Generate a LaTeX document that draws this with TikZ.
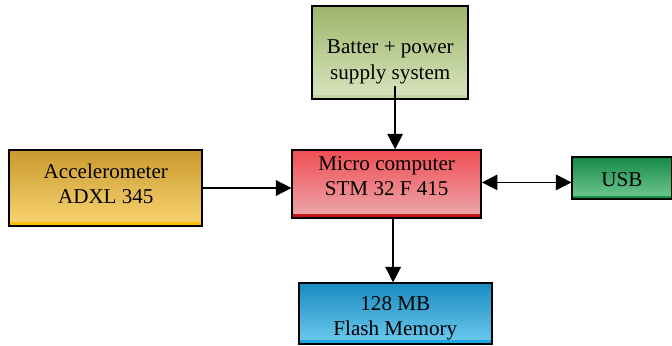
\documentclass[tikz,border=0pt]{standalone}
\usepackage{fontspec}
\setmainfont{Liberation Serif}
\usetikzlibrary{arrows.meta}
\usetikzlibrary{positioning}
\definecolor{batTop}{HTML}{9DB56B}
\definecolor{batBot}{HTML}{D9E5BF}
\definecolor{batLin}{HTML}{C3D69B}
\definecolor{accTop}{HTML}{C99A2E}
\definecolor{accBot}{HTML}{FAD572}
\definecolor{accLin}{HTML}{FFC000}
\definecolor{mcTop}{HTML}{F04E55}
\definecolor{mcBot}{HTML}{EBA9AC}
\definecolor{mcLin}{HTML}{C3161E}
\definecolor{usbTop}{HTML}{178A47}
\definecolor{usbBot}{HTML}{71C993}
\definecolor{usbLin}{HTML}{14934A}
\definecolor{flTop}{HTML}{1A8CC1}
\definecolor{flBot}{HTML}{6ECAEE}
\definecolor{flLin}{HTML}{16A5DE}
\tikzset{
  >={Triangle[length=11pt,width=11pt]},
  box/.style = {draw, line width=1.2pt, align=center, inner sep=0pt,
    font=\fontsize{15}{18}\selectfont},
  grad/.style n args = {3}{top color=#1, bottom color=#2,
    path picture={\fill[#3] (path picture bounding box.south west)
      rectangle ([yshift=2.6pt]path picture bounding box.south east);}},
  link/.style = {line width=1pt},
}

\begin{document}
\begin{tikzpicture}[x=0.025cm, y=-0.025cm]
    \useasboundingbox (0,0) rectangle (672,345);
    \node [box, grad={batTop}{batBot}{batLin}, minimum width=3.9cm, minimum height=2.325cm,
      text height=39pt, text depth=1pt] (bat) at (390.3,52.5) {Batter + power\\supply system};
    \node [box, grad={accTop}{accBot}{accLin}, minimum width=4.825cm, minimum height=1.9cm,
      text height=31.3pt, text depth=8.7pt] (acc) at (105.8,188) {Accelerometer\\ADXL 345};
    \node [box, grad={mcTop}{mcBot}{mcLin}, minimum width=4.72cm, minimum height=1.69cm,
      text height=28.3pt, text depth=11.7pt] (mc) at (386.7,184) {Micro computer\\STM 32 F 415};
    \node [box, grad={usbTop}{usbBot}{usbLin}, minimum width=2.48cm, minimum height=1.05cm,
      text height=17.5pt, text depth=6.5pt] (usb) at (621.9,178.3) {USB};
    \node [box, grad={flTop}{flBot}{flLin}, minimum width=4.82cm, minimum height=1.52cm,
      text height=35.8pt, text depth=4.2pt] (fl) at (395.3,313.7) {128 MB\\Flash Memory};
    \draw [link, ->] ([xshift=0.12cm, yshift=0.35cm]bat.south) -- ([xshift=0.12cm]bat.south |- mc.north);
    \draw [link, ->] (acc.east) -- (acc.east -| mc.west);
    \draw [link, <->] ([yshift=0.04cm]mc.east) -- ([yshift=0.04cm]mc.east -| usb.west);
    \draw [link, ->] ([xshift=0.16cm]mc.south) -- ([xshift=0.16cm]mc.south |- fl.north);
  \end{tikzpicture}
\end{document}
